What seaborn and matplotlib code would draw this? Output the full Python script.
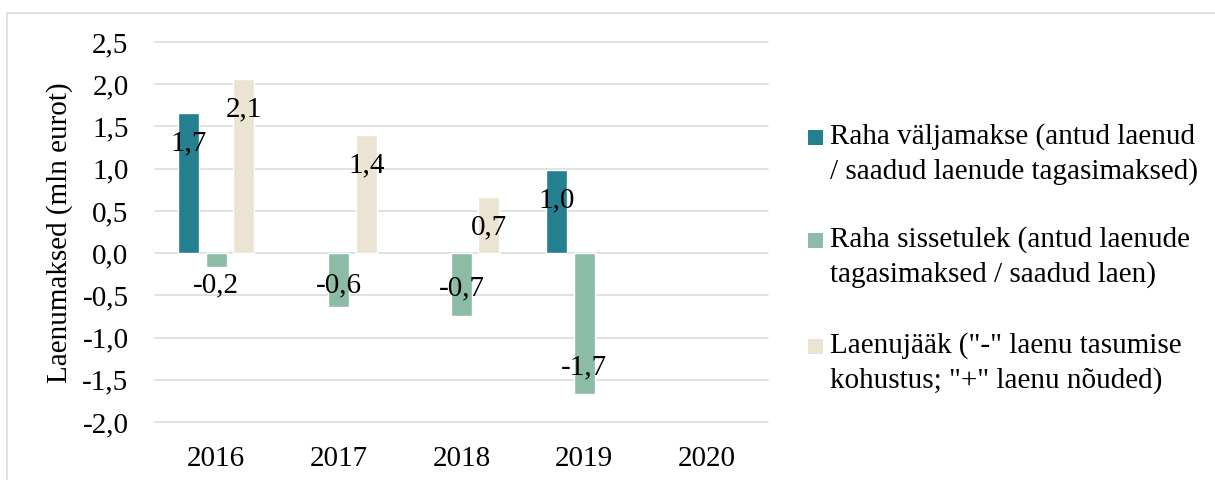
import numpy as np
import pandas as pd
import matplotlib
matplotlib.use("Agg")
import matplotlib.pyplot as plt
import seaborn as sns
from matplotlib.ticker import FuncFormatter, MultipleLocator
from matplotlib.lines import Line2D
from matplotlib.patches import Rectangle

years = ["2016", "2017", "2018", "2019", "2020"]
series = [
    'Raha väljamakse (antud laenud\n/ saadud laenude tagasimaksed)',
    'Raha sissetulek (antud laenude\ntagasimaksed / saadud laen)',
    'Laenujääk ("-" laenu tasumise\nkohustus; "+" laenu nõuded)',
]
valjamakse = [1.66, np.nan, np.nan, 0.99, np.nan]
sissetulek = [-0.16, -0.64, -0.74, -1.67, np.nan]
laenujaak = [2.06, 1.40, 0.67, np.nan, np.nan]
colors = ["#24808F", "#8CBCA6", "#ECE4D2"]

rows = []
for name, vals in zip(series, [valjamakse, sissetulek, laenujaak]):
    for y, v in zip(years, vals):
        rows.append({"aasta": y, "seeria": name, "vaartus": v})
df = pd.DataFrame(rows)

sns.set_theme(style="white")
plt.rcParams["font.family"] = ["Liberation Serif", "DejaVu Serif"]
plt.rcParams["text.color"] = "black"
fs = 21

fig = plt.figure(figsize=(12.15, 4.8), dpi=100)
ax = fig.add_axes([155 / 1215, 1 - 422 / 480, 613 / 1215, 380 / 480])

sns.barplot(data=df.dropna(), x="aasta", y="vaartus", hue="seeria",
            order=years, hue_order=series, palette=colors,
            width=0.672, gap=0.236, saturation=1, errorbar=None,
            legend=False, ax=ax)

ax.set_xlim(-0.5, 4.5)
ax.set_ylim(-2.0, 2.5)
ax.yaxis.set_major_locator(MultipleLocator(0.5))
ax.yaxis.set_major_formatter(FuncFormatter(lambda v, p: f"{v:.1f}".replace(".", ",")))
ax.set_axisbelow(True)
ax.grid(axis="y", color="#d9d9d9", linewidth=1.1)
for gl in ax.get_ygridlines():
    gl.set_clip_on(False)
for s in ax.spines.values():
    s.set_visible(False)
ax.tick_params(axis="both", length=0, labelsize=fs, colors="black")
ax.tick_params(axis="y", pad=19)
ax.tick_params(axis="x", pad=17)
ax.set_xlabel("")
ax.set_ylabel("")

# data labels
for cont in ax.containers:
    for bar in cont:
        h = bar.get_height()
        if np.isnan(h):
            continue
        x = bar.get_x() + bar.get_width() / 2
        ty = h - 0.36 if h > 0 else min(h + 0.32, -0.38)
        ax.text(x, ty, f"{h:.1f}".replace(".", ","), ha="center", va="center",
                fontsize=fs, color="black")

fig.text(60 / 1215, 1 - 233 / 480, "Laenumaksed (mln eurot)", rotation=90,
         ha="center", va="center", fontsize=fs, color="black")

# legend
entry_y = [137, 240, 346]
for name, col, yy in zip(series, colors, entry_y):
    fig.patches.append(Rectangle((808 / 1215, 1 - (yy + 7.5) / 480), 15 / 1215, 15 / 480,
                                 transform=fig.transFigure, facecolor=col, edgecolor="none"))
    for i, line in enumerate(name.split("\n")):
        fig.text(830 / 1215, 1 - (yy + 34.5 * i) / 480, line, ha="left", va="center",
                 fontsize=fs, color="black")

# outer border
fig.add_artist(Line2D([7 / 1215, 1], [1 - 13 / 480, 1 - 13 / 480], transform=fig.transFigure,
                      color="#d9d9d9", linewidth=1.1))
fig.add_artist(Line2D([7 / 1215, 7 / 1215], [0, 1 - 13 / 480], transform=fig.transFigure,
                      color="#d9d9d9", linewidth=1.1))

fig.savefig("out.png", dpi=100)
